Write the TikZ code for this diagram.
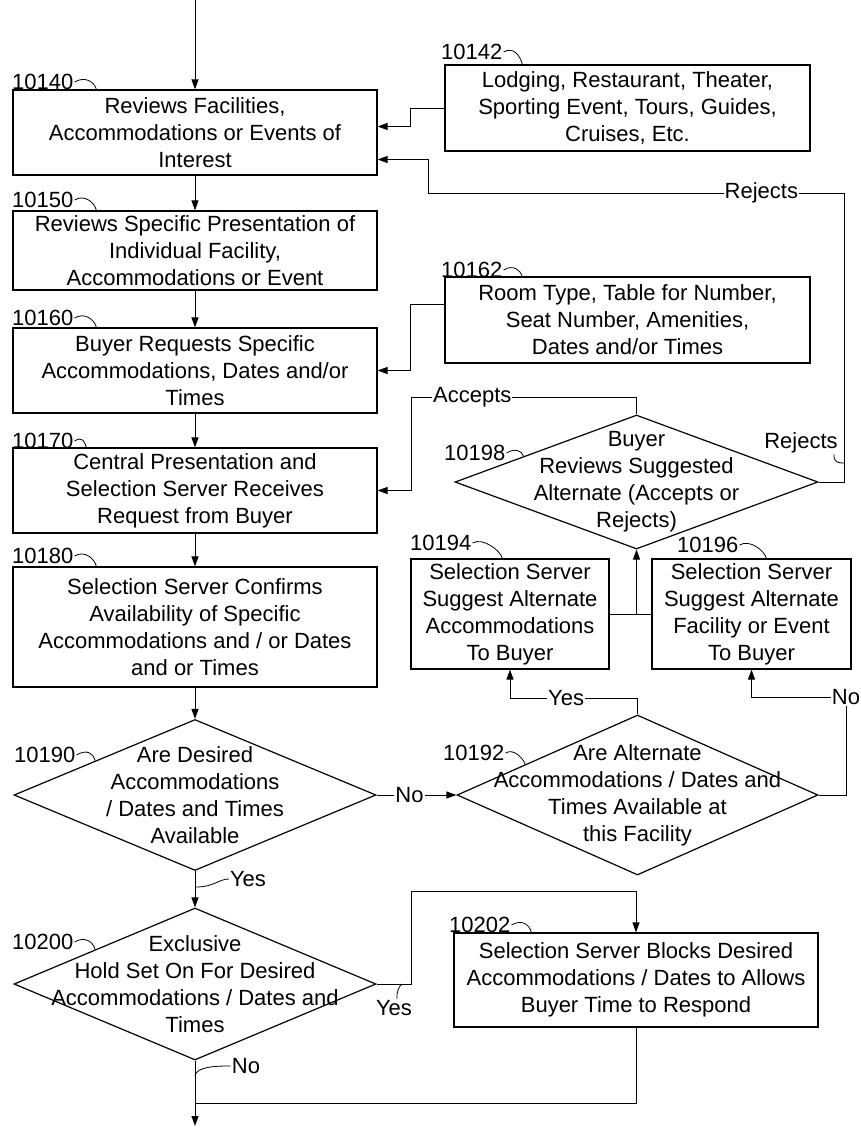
\documentclass[tikz,border=0pt]{standalone}
\usepackage{fontspec}
\setmainfont{Liberation Sans}
\usetikzlibrary{shapes.geometric,arrows.meta,calc}

\begin{document}
\begin{tikzpicture}[x=1pt,y=-1pt,
        every node/.style={font=\fontsize{22}{27}\selectfont},
        box/.style={draw,line width=1.2pt,rectangle,align=center,inner sep=2pt},
        decision/.style={draw,line width=1.2pt,diamond,inner sep=0pt},
        dtext/.style={align=center,inner sep=0pt},
        refno/.style={inner sep=1pt},
        lbl/.style={fill=white,inner sep=1pt},
        lead/.style={line width=0.8pt},
        line/.style={line width=1pt},
        arr/.style={line width=1pt,-{Triangle[length=10pt,width=7pt]}}]
        \useasboundingbox (0,0) rectangle (861,1128);

        \node[box,minimum width=364pt,minimum height=85pt] (b140) at (195,132.5) {Reviews Facilities,\\Accommodations or Events of\\Interest};
        \node[box,minimum width=364pt,minimum height=79pt] (b150) at (195,250.5) {Reviews Specific Presentation of\\Individual Facility,\\Accommodations or Event};
        \node[box,minimum width=364pt,minimum height=85pt] (b160) at (195,370.5) {Buyer Requests Specific\\Accommodations, Dates and/or\\Times};
        \node[box,minimum width=364pt,minimum height=85pt] (b170) at (195,490.5) {Central Presentation and\\Selection Server Receives\\Request from Buyer};
        \node[box,minimum width=364pt,minimum height=120pt] (b180) at (195,627) {Selection Server Confirms\\Availability of Specific\\Accommodations and / or Dates\\and or Times};
        \node[decision,minimum width=362pt,minimum height=151pt] (d190) at (195,795) {};
        \node[dtext] (t190) at (d190) {Are Desired\\Accommodations\\/ Dates and Times\\Available};
        \node[decision,minimum width=362pt,minimum height=152pt] (d200) at (195,984) {};
        \node[dtext] (t200) at (d200) {Exclusive\\Hold Set On For Desired\\Accommodations / Dates and\\Times};

        \node[box,minimum width=365pt,minimum height=86pt] (b142) at (627.5,108) {Lodging, Restaurant, Theater,\\Sporting Event, Tours, Guides,\\Cruises, Etc.};
        \node[box,minimum width=365pt,minimum height=86pt] (b162) at (627.5,320) {Room Type, Table for Number,\\Seat Number, Amenities,\\Dates and/or Times};
        \node[decision,minimum width=363pt,minimum height=134pt] (d198) at (636.5,482) {};
        \node[dtext] (t198) at (d198) {Buyer\\Reviews Suggested\\Alternate (Accepts or\\Rejects)};
        \node[box,minimum width=198pt,minimum height=110pt] (b194) at (510,614) {Selection Server\\Suggest Alternate\\Accommodations\\To Buyer};
        \node[box,minimum width=199pt,minimum height=110pt] (b196) at (751.5,614) {Selection Server\\Suggest Alternate\\Facility or Event\\To Buyer};
        \node[decision,minimum width=361pt,minimum height=160pt] (d192) at (637.5,795) {};
        \node[dtext] (t192) at (d192) {Are Alternate\\Accommodations / Dates and\\Times Available at\\this Facility};
        \node[box,minimum width=364pt,minimum height=94pt] (b202) at (636,980) {Selection Server Blocks Desired\\Accommodations / Dates to Allows\\Buyer Time to Respond};

        \node[refno,anchor=west] (l140) at (11,82) {10140};
        \node[refno,anchor=west] (l150) at (11,200) {10150};
        \node[refno,anchor=west] (l160) at (11,318) {10160};
        \node[refno,anchor=west] (l170) at (11,441) {10170};
        \node[refno,anchor=west] (l180) at (11,556) {10180};
        \node[refno,anchor=west] (l190) at (13,755) {10190};
        \node[refno,anchor=west] (l200) at (11,942) {10200};
        \node[refno,anchor=west] (l142) at (440,52) {10142};
        \node[refno,anchor=west] (l162) at (440,270) {10162};
        \node[refno,anchor=west] (l198) at (443,453) {10198};
        \node[refno,anchor=west] (l194) at (409,543) {10194};
        \node[refno,anchor=west] (l196) at (676,545) {10196};
        \node[refno,anchor=west] (l192) at (442,753) {10192};
        \node[refno,anchor=west] (l202) at (448,925) {10202};

        \draw[lead] (l140.east) .. controls +(10,-6) and +(-2,-8) .. ([xshift=84pt]b140.north west);
        \draw[lead] (l150.east) .. controls +(10,-6) and +(-2,-8) .. ([xshift=84pt]b150.north west);
        \draw[lead] (l160.east) .. controls +(10,-6) and +(-2,-8) .. ([xshift=84pt]b160.north west);
        \draw[lead] (l170.east) .. controls +(8,-5) and +(-2,-6) .. ([xshift=74pt]b170.north west);
        \draw[lead] (l180.east) .. controls +(10,-6) and +(-2,-8) .. ([xshift=84pt]b180.north west);
        \draw[lead] (l190.east) .. controls +(10,-6) and +(-2,-8) .. ($(d190.west)!0.45!(d190.north)$);
        \draw[lead] (l200.east) .. controls +(10,-6) and +(-2,-8) .. ($(d200.west)!0.45!(d200.north)$);
        \draw[lead] (l142.east) .. controls +(10,-6) and +(-2,-8) .. ([xshift=78pt]b142.north west);
        \draw[lead] (l162.east) .. controls +(10,-6) and +(-2,-6) .. ([xshift=78pt]b162.north west);
        \draw[lead] (l198.east) .. controls +(8,-5) and +(-2,-6) .. ($(d198.west)!0.38!(d198.north)$);
        \draw[lead] (l194.east) .. controls +(10,-6) and +(-2,-8) .. ([xshift=92pt]b194.north west);
        \draw[lead] (l196.east) .. controls +(10,-6) and +(-2,-8) .. ([xshift=115pt]b196.north west);
        \draw[lead] (l192.east) .. controls +(8,-5) and +(-2,-6) .. ($(d192.west)!0.38!(d192.north)$);
        \draw[lead] (l202.east) .. controls +(10,-6) and +(-2,-8) .. ([xshift=78pt]b202.north west);

        \coordinate (start) at (195,0);
        \coordinate (finish) at (195,1126);
        \coordinate (merge) at (195,1103);
        \coordinate (noturn) at (846,697);

        \draw[arr] (start) -- (b140);
        \draw[arr] (b140) -- (b150);
        \draw[arr] (b150) -- (b160);
        \draw[arr] (b160) -- (b170);
        \draw[arr] (b170) -- (b180);
        \draw[arr] (b180) -- (d190);
        \draw[arr] (d190) -- (d200);
        \draw[arr] (d200) -- (finish);
        \draw[line] (b202) |- (merge);
        \draw[arr] (d190) -- node[lbl,xshift=-7pt]{No} (d192);

        \draw[arr] (b142.west) -- ++(-34,0) |- ([yshift=6pt]b140.east);
        \draw[arr] ([yshift=16pt]b162.west) -- ++(-34,0) |- (b160.east);
        \draw[arr] (d198.north) -- ++(0,-17) -| node[lbl,pos=0.365]{Accepts} ([xshift=34pt]b170.east) -- (b170.east);
        \draw[arr] (d198.east) -- ++(26,0) -- ++(0,-289) -| node[lbl,pos=0.1]{Rejects} ([xshift=51pt,yshift=-27pt]b140.east) -- ([yshift=-27pt]b140.east);

        \draw[arr] (b194.east) -| (d198.south);
        \draw[line] (b196.west) -- (b196.west -| d198.south);
        \draw[arr] (d192.north) -- ++(0,-16) -| node[lbl,pos=0.28]{Yes} (b194.south);
        \draw[arr] (d192.east) -| node[lbl,pos=1]{No} (noturn) -| (b196.south);
        \draw[arr] (d200.east) -- ++(35,0) -- ++(0,-93) -| (b202.north);

        \node[refno] (rej) at (801,443) {Rejects};
        \node[refno] (yes190) at (248,879) {Yes};
        \node[refno] (yes200) at (394,1008) {Yes};
        \node[refno] (no200) at (246,1066) {No};
        \coordinate (rejpt) at (844,463);
        \coordinate (yes190pt) at (196,887);
        \coordinate (yes200pt) at (402,984);
        \coordinate (no200pt) at (195,1076);
        \draw[lead] ([xshift=-5pt]rej.south east) .. controls +(0,8) and +(-6,0) .. (rejpt);
        \draw[lead] (yes190pt) .. controls +(18,0) and +(-10,0) .. (yes190.west);
        \draw[lead] ([xshift=3pt]yes200.north) .. controls +(-1,-6) and +(-3,2) .. (yes200pt);
        \draw[lead] (no200pt) .. controls +(1,-10) and +(-12,0) .. (no200.west);
\end{tikzpicture}
\end{document}
